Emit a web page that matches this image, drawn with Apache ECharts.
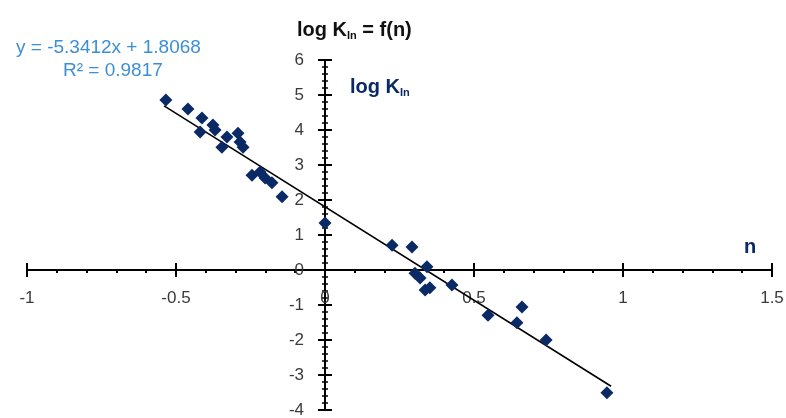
<!DOCTYPE html>
<html><head><meta charset="utf-8">
<script src="https://cdn.jsdelivr.net/npm/echarts@6/dist/echarts.min.js"></script>
<style>html,body{margin:0;padding:0;background:#fff}#c{width:786px;height:418px}</style>
</head><body><div id="c"></div>
<script>
// Data
const nValues = [-0.534, -0.460, -0.413, -0.419, -0.376, -0.369, -0.346, -0.329, -0.292, -0.285, -0.275,
  -0.245, -0.218, -0.201, -0.178, -0.144, 0.0, 0.225, 0.292, 0.302, 0.319, 0.342, 0.352, 0.336,
  0.426, 0.547, 0.661, 0.644, 0.742, 0.946];
const logKValues = [4.86, 4.60, 4.34, 3.94, 4.14, 4.00, 3.51, 3.80, 3.91, 3.66, 3.51,
  2.71, 2.80, 2.63, 2.49, 2.09, 1.34, 0.71, 0.66, -0.09, -0.23, 0.09, -0.51, -0.57,
  -0.43, -1.29, -1.06, -1.51, -2.00, -3.51];
// Trendline (Excel linear fit shown on chart)
const trendSlope = -5.3412;
const trendIntercept = 1.8068;
const trendR2 = 0.9817;
const trendRange = [-0.54, 0.96];
// Axis ranges
const xRange = [-1, 1.5], xStep = 0.5;
const yRange = [-4, 6], yStep = 1;

const points = nValues.map((x, i) => [x, logKValues[i]]);
const trend = trendRange.map(x => [x, trendSlope * x + trendIntercept]);

const font = 'Liberation Sans, Arial, sans-serif';
const narrow = '"Liberation Sans Narrow", "Liberation Sans", Arial, sans-serif';
const navy = '#0a2a66';
const labelStyle = {fontFamily: narrow, fontSize: 17, color: '#3a3a3a'};
const tickStyle = {color: '#000', width: 2};

const chart = echarts.init(document.getElementById('c'), null, {renderer: 'canvas'});
const baseX = {type: 'value', min: xRange[0], max: xRange[1], interval: xStep, splitLine: {show: false},
  axisLine: {onZero: false, lineStyle: {color: '#000', width: 2}}};
const baseY = {type: 'value', min: yRange[0], max: yRange[1], interval: yStep, splitLine: {show: false},
  axisLine: {onZero: false, lineStyle: {color: '#000', width: 2}}};
const rich = (c) => ({a: {fontFamily: font, fontSize: 20, fontWeight: 'bold', color: c},
  s: {fontFamily: font, fontSize: 11, fontWeight: 'bold', color: c, padding: [10, 0, 0, 0]}});
const option = {
  animation: false,
  backgroundColor: '#fff',
  title: [
    {text: '{a|log K}{s|In}{a| = f(n)}', left: 292, top: 15, textStyle: {rich: rich('#111')}},
    {text: '{a|log K}{s|In}', left: 345, top: 72, textStyle: {rich: rich(navy)}},
    {text: 'n', left: 739, top: 232, textStyle: {fontFamily: font, fontSize: 20, fontWeight: 'bold', color: navy}},
    {text: 'y = ' + trendSlope + 'x + ' + trendIntercept, left: 11, top: 33,
      textStyle: {fontFamily: font, fontSize: 19, fontWeight: 'normal', color: '#3d8fd4'}},
    {text: 'R\u00b2 = ' + trendR2, left: 58, top: 56,
      textStyle: {fontFamily: font, fontSize: 19, fontWeight: 'normal', color: '#3d8fd4'}}
  ],
  grid: {left: 27, right: 14, top: 60, bottom: 8, containLabel: false, outerBoundsMode: 'none'},
  xAxis: [
    Object.assign({}, baseX, {position: 'bottom',
      axisTick: {show: true, length: 7, lineStyle: tickStyle},
      minorTick: {show: true, splitNumber: 5, length: 3, lineStyle: tickStyle},
      axisLabel: Object.assign({margin: 20}, labelStyle)}),
    Object.assign({}, baseX, {position: 'top',
      axisTick: {show: true, length: 7, lineStyle: tickStyle},
      axisLabel: {show: false}})
  ],
  yAxis: [
    Object.assign({}, baseY, {position: 'left',
      axisTick: {show: true, length: 7, lineStyle: tickStyle},
      minorTick: {show: true, splitNumber: 5, length: 3, lineStyle: {color: '#000', width: 1.5}},
      axisLabel: Object.assign({margin: 21}, labelStyle)}),
    Object.assign({}, baseY, {position: 'right',
      axisTick: {show: true, length: 7, lineStyle: tickStyle},
      minorTick: {show: true, splitNumber: 5, length: 3, lineStyle: {color: '#000', width: 1.5}},
      axisLabel: {show: false}})
  ],
  series: [
    {type: 'line', data: trend, xAxisIndex: 0, yAxisIndex: 0, showSymbol: false, symbol: 'none',
      lineStyle: {color: '#000', width: 1.6}, z: 3},
    {type: 'scatter', data: points, xAxisIndex: 0, yAxisIndex: 0, symbol: 'diamond', symbolSize: 13,
      itemStyle: {color: navy, opacity: 1}, z: 4}
  ]
};
chart.setOption(option);
// move the axes so they cross at the origin (keeping labels with them)
const rect = chart.getModel().getComponent('grid', 0).coordinateSystem.getRect();
const origin = chart.convertToPixel({xAxisIndex: 0, yAxisIndex: 0}, [0, 0]);
chart.setOption({
  xAxis: [{offset: -(rect.y + rect.height - origin[1])}, {offset: -(origin[1] - rect.y)}],
  yAxis: [{offset: -(origin[0] - rect.x)}, {offset: -(rect.x + rect.width - origin[0])}]
});
</script></body></html>
